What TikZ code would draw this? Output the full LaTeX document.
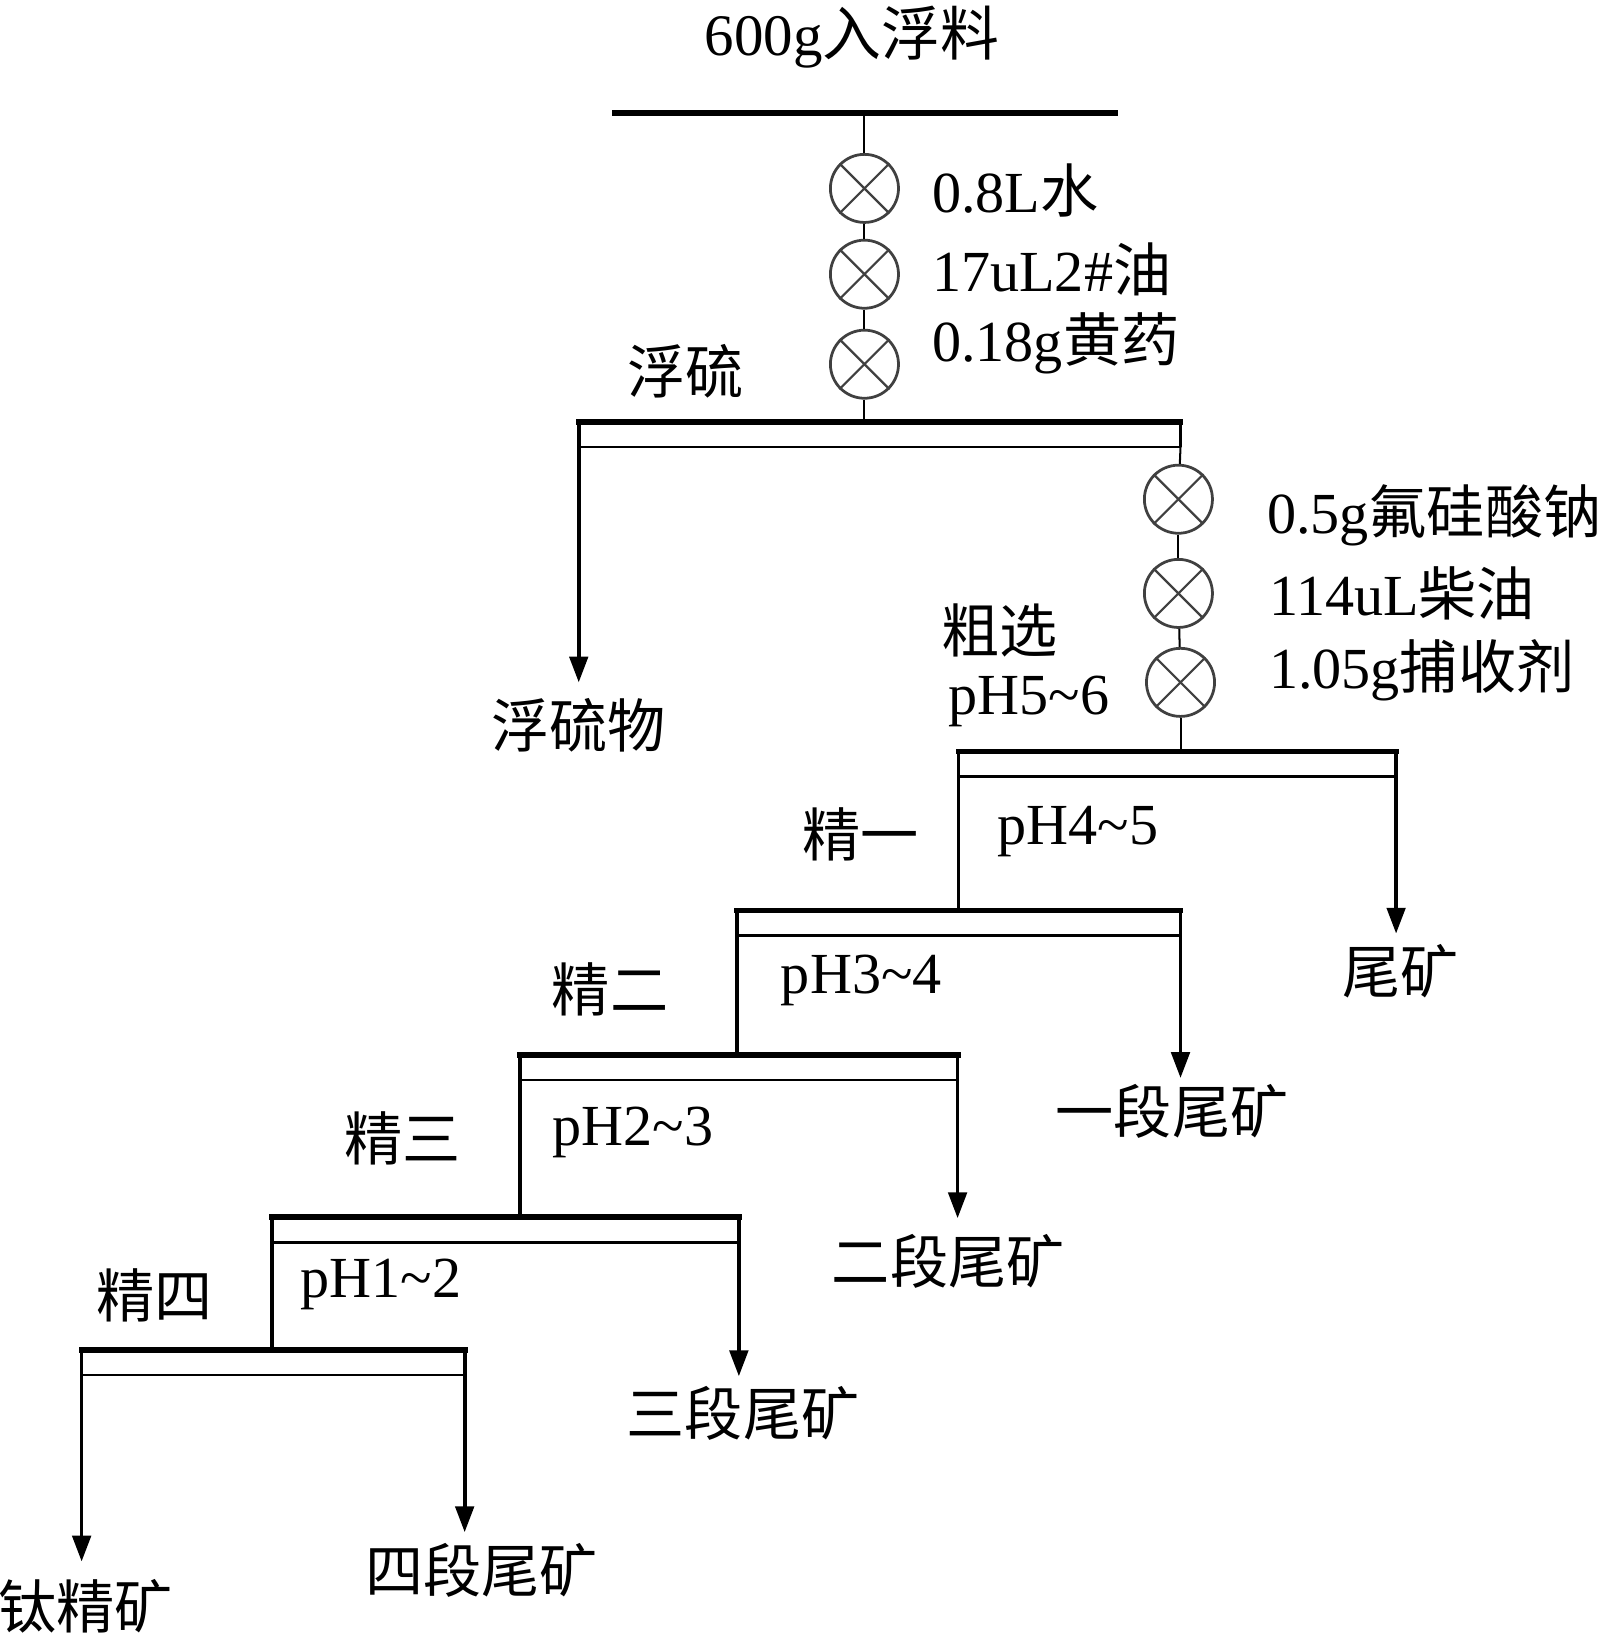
\documentclass[tikz,border=0pt]{standalone}
\usepackage{fontspec}
\setmainfont{Liberation Serif}
\newfontfamily\cjk{Noto Sans CJK SC}
\newcommand\zhtxt[1]{{\cjk #1}}
\usetikzlibrary{arrows.meta}
\begin{document}
\begin{tikzpicture}[x=0.01cm,y=-0.01cm,
  lbl/.style={font=\fontsize{15.8}{18}\selectfont, inner sep=0pt},
  bar/.style={line width=1.6pt, line cap=rect},
  thinln/.style={line width=0.7pt},
  flow/.style={line width=1pt},
  feed/.style={line width=0.55pt},
  arr/.style={flow,-{Triangle[length=7pt,width=5pt]}},
  mix/.style={circle, draw=black!75, line width=0.75pt, minimum size=18.5pt, inner sep=0pt}]
\path[use as bounding box] (0,0) rectangle (1529,1568);

% feed bar
\coordinate (f0L) at (588,108);
\coordinate (f0R) at (1065,108);
\coordinate (f0M) at (826,108);
\draw[bar] (f0L) -- (f0R);

% mixers
\node[mix] (c1) at (826,180) {};
\node[mix] (c2) at (826,262) {};
\node[mix] (c3) at (826,348) {};
\node[mix] (c4) at (1126,477) {};
\node[mix] (c5) at (1126,567) {};
\node[mix] (c6) at (1128,652) {};
\foreach \c in {c1,c2,c3,c4,c5,c6}{
  \draw[draw=black!75, line width=0.6pt] (\c.north west) -- (\c.south east) (\c.north east) -- (\c.south west);
}

% bars
\foreach \n/\y/\l/\r in {b1/403/553/1128, b2/718/916/1334, b3/870/704/1128, b4/1008/497/915, b5/1163/260/706, b6/1290/78/444}{
  \coordinate (\n L) at (\l,\y);
  \coordinate (\n R) at (\r,\y);
  \coordinate (\n l) at (\l,\y+24);
  \coordinate (\n r) at (\r,\y+24);
  \draw[bar] (\n L) -- (\n R);
  \draw[thinln] (\n l) -- (\n r);
}
\coordinate (b1M) at (826,403);
\coordinate (b2M) at (1128,718);
\coordinate (b3M) at (916,870);
\coordinate (b4M) at (704,1008);
\coordinate (b5M) at (497,1163);
\coordinate (b6M) at (260,1290);

% end points
\coordinate (e1) at (553,652);
\coordinate (e2) at (1334,892);
\coordinate (e3) at (1128,1030);
\coordinate (e4) at (915,1164);
\coordinate (e5) at (706,1315);
\coordinate (e6L) at (78,1492);
\coordinate (e6R) at (444,1464);

% reagent line
\draw[feed] (f0M) -- (c1);
\draw[feed] (c1) -- (c2);
\draw[feed] (c2) -- (c3);
\draw[feed] (c3) -- (b1M);
\draw[flow] (b1R) -- (b1r);
\draw[feed] (b1r) -- (c4);
\draw[feed] (c4) -- (c5);
\draw[feed] (c5) -- (c6);
\draw[feed] (c6) -- (b2M);

% flows
\draw[arr] (b1L) -- (e1);
\draw[flow] (b2L) -- (b3M);
\draw[arr] (b2R) -- (e2);
\draw[flow] (b3L) -- (b4M);
\draw[arr] (b3R) -- (e3);
\draw[flow] (b4L) -- (b5M);
\draw[arr] (b4R) -- (e4);
\draw[flow] (b5L) -- (b6M);
\draw[arr] (b5R) -- (e5);
\draw[arr] (b6L) -- (e6L);
\draw[arr] (b6R) -- (e6R);

% labels
\node[lbl, font=\fontsize{16}{18}\selectfont] (title) at (814,35) {600g\zhtxt{入浮料}};
\node[lbl, anchor=west] (r1) at (890,182) {0.8L\zhtxt{水}};
\node[lbl, anchor=west] (r2) at (890,257) {17uL2\#\zhtxt{油}};
\node[lbl, anchor=west] (r3) at (890,328) {0.18g\zhtxt{黄药}};
\node[lbl] (s0) at (655,355) {\zhtxt{浮硫}};
\node[lbl, anchor=west] (r4) at (1210,492) {0.5g\zhtxt{氟硅酸钠}};
\node[lbl, anchor=west] (r5) at (1212,567) {114uL\zhtxt{柴油}};
\node[lbl, anchor=west] (r6) at (1212,640) {1.05g\zhtxt{捕收剂}};
\node[lbl] (p0) at (553,693) {\zhtxt{浮硫物}};
\node[lbl] (s1) at (955,602) {\zhtxt{粗选}};
\node[lbl] (ph1) at (983,670) {pH5\textasciitilde 6};
\node[lbl] (t1) at (1338,928) {\zhtxt{尾矿}};
\node[lbl] (s2) at (822,797) {\zhtxt{精一}};
\node[lbl] (ph2) at (1030,795) {pH4\textasciitilde 5};
\node[lbl] (t2) at (1120,1062) {\zhtxt{一段尾矿}};
\node[lbl] (s3) at (583,945) {\zhtxt{精二}};
\node[lbl] (ph3) at (823,937) {pH3\textasciitilde 4};
\node[lbl] (t3) at (906,1205) {\zhtxt{二段尾矿}};
\node[lbl] (s4) at (385,1088) {\zhtxt{精三}};
\node[lbl] (ph4) at (605,1082) {pH2\textasciitilde 3};
\node[lbl] (t4) at (710,1350) {\zhtxt{三段尾矿}};
\node[lbl] (s5) at (148,1238) {\zhtxt{精四}};
\node[lbl] (ph5) at (364,1227) {pH1\textasciitilde 2};
\node[lbl] (t5) at (82,1535) {\zhtxt{钛精矿}};
\node[lbl] (t6) at (460,1500) {\zhtxt{四段尾矿}};
\end{tikzpicture}
\end{document}
